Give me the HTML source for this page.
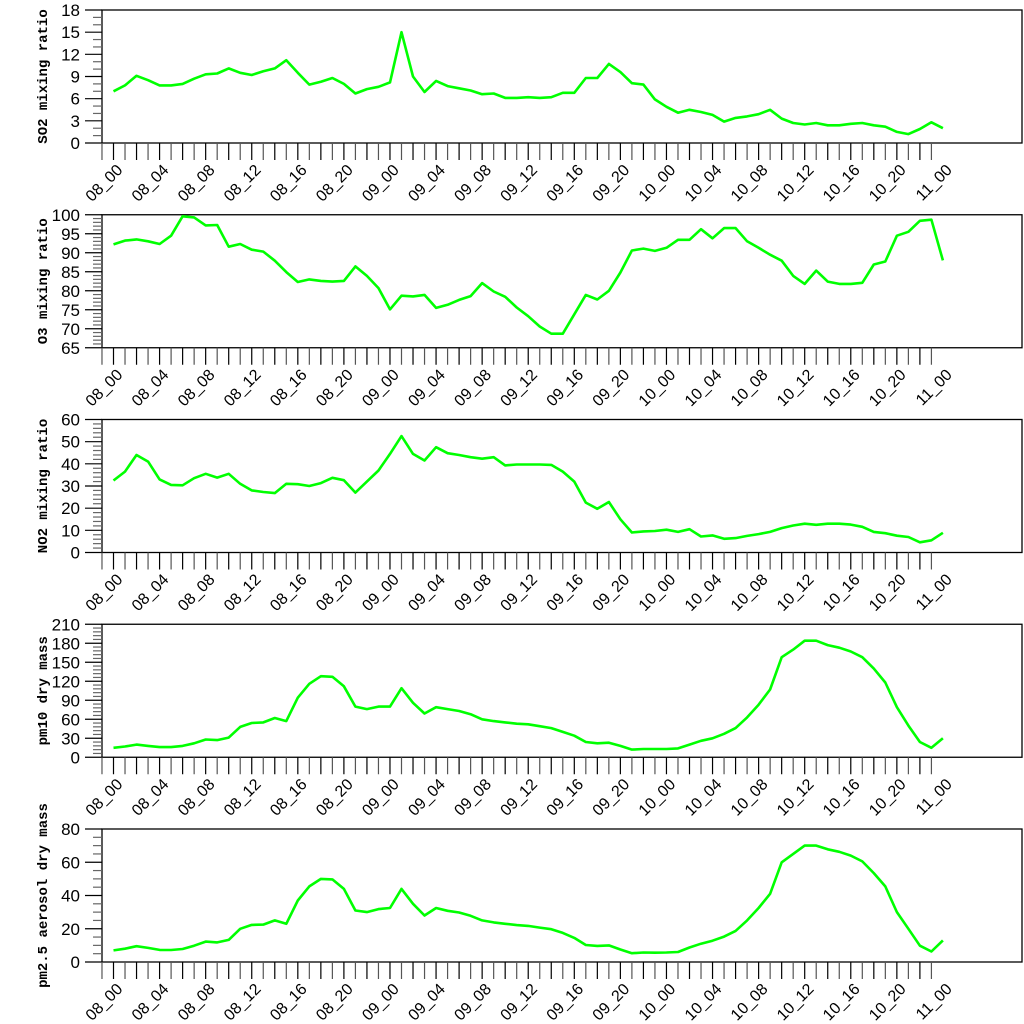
<!DOCTYPE html>
<html><head><meta charset="utf-8"><style>
body{margin:0;background:#fff}
svg{display:block}
.tl{font-family:"Liberation Sans",sans-serif;font-size:17px;fill:#000}
.xl{font-family:"Liberation Sans",sans-serif;font-size:16px;fill:#000}
.yt{font-family:"Liberation Mono",monospace;font-weight:bold;font-size:14px;fill:#000}
</style></head><body>
<svg id="chart" width="1024" height="1024" xmlns="http://www.w3.org/2000/svg"></svg>
<script>
const xLabels = ["08_00","08_04","08_08","08_12","08_16","08_20","09_00","09_04","09_08","09_12","09_16","09_20","10_00","10_04","10_08","10_12","10_16","10_20","11_00"];
const so2 = [7.0,7.8,9.1,8.5,7.8,7.8,8.0,8.7,9.3,9.4,10.1,9.5,9.2,9.7,10.1,11.2,9.5,7.9,8.3,8.8,8.0,6.7,7.3,7.6,8.2,15.0,9.0,6.9,8.4,7.7,7.4,7.1,6.6,6.7,6.1,6.1,6.2,6.1,6.2,6.8,6.8,8.8,8.8,10.7,9.6,8.1,7.9,5.9,4.9,4.1,4.5,4.2,3.8,2.9,3.4,3.6,3.9,4.5,3.3,2.7,2.5,2.7,2.4,2.4,2.6,2.7,2.4,2.2,1.5,1.2,1.9,2.8,2.0];
const o3 = [92.2,93.2,93.5,93.0,92.3,94.5,99.6,99.3,97.2,97.3,91.6,92.3,90.8,90.3,87.9,84.9,82.3,83.0,82.6,82.4,82.6,86.4,83.9,80.7,75.1,78.7,78.5,78.9,75.5,76.3,77.6,78.6,82.0,79.8,78.4,75.6,73.3,70.6,68.7,68.7,73.8,78.9,77.7,80.0,84.8,90.6,91.1,90.5,91.3,93.4,93.4,96.2,93.8,96.5,96.5,93.0,91.3,89.5,87.9,83.9,81.8,85.3,82.4,81.8,81.8,82.1,86.9,87.7,94.5,95.5,98.4,98.7,88.0];
const no2 = [32.5,36.5,44,41,33,30.5,30.3,33.5,35.5,33.8,35.5,31,28,27.3,26.8,31,30.8,30,31.3,33.7,32.6,27,32,37,44.5,52.5,44.5,41.5,47.5,44.8,44,43,42.3,43,39.3,39.7,39.7,39.7,39.5,36.5,32,22.5,19.7,22.8,15,9,9.5,9.7,10.3,9.3,10.5,7.2,7.7,6.2,6.5,7.5,8.3,9.3,11,12.2,13,12.5,13,13,12.6,11.6,9.3,8.7,7.6,7,4.6,5.5,8.9];
const pm10 = [15,17,20,18,16,16,18,22,28,27,31,48,54,55,62,57,94,116,128,127,112,80,76,80,80,109,86,69,79,76,73,68,60,57,55,53,52,49,46,40,34,24,22,23,18,12,13,13,13,14,20,26,30,37,46,63,83,107,158,170,184,184,177,173,167,158,140,118,79,50,24,15,30];
const pm25 = [7,8,9.5,8.5,7.3,7.2,7.8,9.8,12.3,11.8,13.3,20,22.3,22.5,25,23,37,45.5,50,49.7,44,31,30,31.8,32.5,44,35,28,32.5,30.8,29.8,27.8,25,23.8,23,22.2,21.7,20.7,19.7,17.5,14.5,10.2,9.7,10,7.5,5.3,5.7,5.6,5.7,6,8.7,11,12.8,15.3,18.7,25,32.5,41,60,65,70,70,67.8,66.3,64,60.5,53.5,45.5,30,20,9.8,6.3,13];

const panels = [
 {name:"so2",title:"SO2 mixing ratio",vals:so2,min:0,max:18,major:3,minor:1},
 {name:"o3",title:"O3 mixing ratio",vals:o3,min:65,max:100,major:5,minor:1},
 {name:"no2",title:"NO2 mixing ratio",vals:no2,min:0,max:60,major:10,minor:2},
 {name:"pm10",title:"pm10 dry mass",vals:pm10,min:0,max:210,major:30,minor:6},
 {name:"pm25",title:"pm2.5 aerosol dry mass",vals:pm25,min:0,max:80,major:20,minor:5}
];
const NS="http://www.w3.org/2000/svg";
const svg=document.getElementById('chart');
const L=102,R=1022,H=133,X0=113.5,DX=11.52;
function xs(i){return X0+i*DX;}
function mk(tag,attrs,parent){const e=document.createElementNS(NS,tag);for(const k in attrs)e.setAttribute(k,attrs[k]);(parent||svg).appendChild(e);return e;}
panels.forEach((p,pi)=>{
  const top=10+pi*204.75, bot=top+H;
  const ys=v=>bot-(v-p.min)/(p.max-p.min)*H;
  const g=mk('g',{});
  
  
  const box=mk('rect',{x:L,y:top,width:R-L,height:H,fill:'none',stroke:'#000','stroke-width':1.3},g);
  
  
  for(let v=p.min;v<=p.max+1e-9;v+=p.minor){
    const y=ys(v);
    const isMaj=Math.abs(((v-p.min)/p.major)-Math.round((v-p.min)/p.major))<1e-6;
    mk('line',{x1:isMaj?85:93,x2:L,y1:y,y2:y,stroke:isMaj?'#000':'#666','stroke-width':1.2},g);
    if(isMaj){
      const t=mk('text',{x:80,y:y+6,'text-anchor':'end',class:'tl'},g);
      t.textContent=String(Math.round(v));
      
      
    }
  }
  for(let i=-1;i<=71;i++){
    mk('line',{x1:xs(i),x2:xs(i),y1:bot,y2:bot+17,stroke:(i%2===0)?'#000':'#555','stroke-width':1.2},g);
  }
  xLabels.forEach((lab,k)=>{
    const x=xs(k*4)+10, y=bot+28;
    const t=mk('text',{x:x,y:y,'text-anchor':'end',class:'xl',transform:`rotate(-45 ${x} ${y})`},g);
    t.textContent=lab;
    
    
  });
  const yt=mk('text',{x:0,y:0,'text-anchor':'middle',class:'yt',transform:`translate(47 ${top+H/2}) rotate(-90)`},g);
  yt.textContent=p.title;
  
  
  const pts=p.vals.map((v,i)=>xs(i).toFixed(1)+','+ys(v).toFixed(1)).join(' ');
  const ln=mk('polyline',{points:pts,fill:'none',stroke:'#00ff00','stroke-width':2.6,'stroke-linejoin':'round'},g);
  
  
});
</script>
</body></html>
